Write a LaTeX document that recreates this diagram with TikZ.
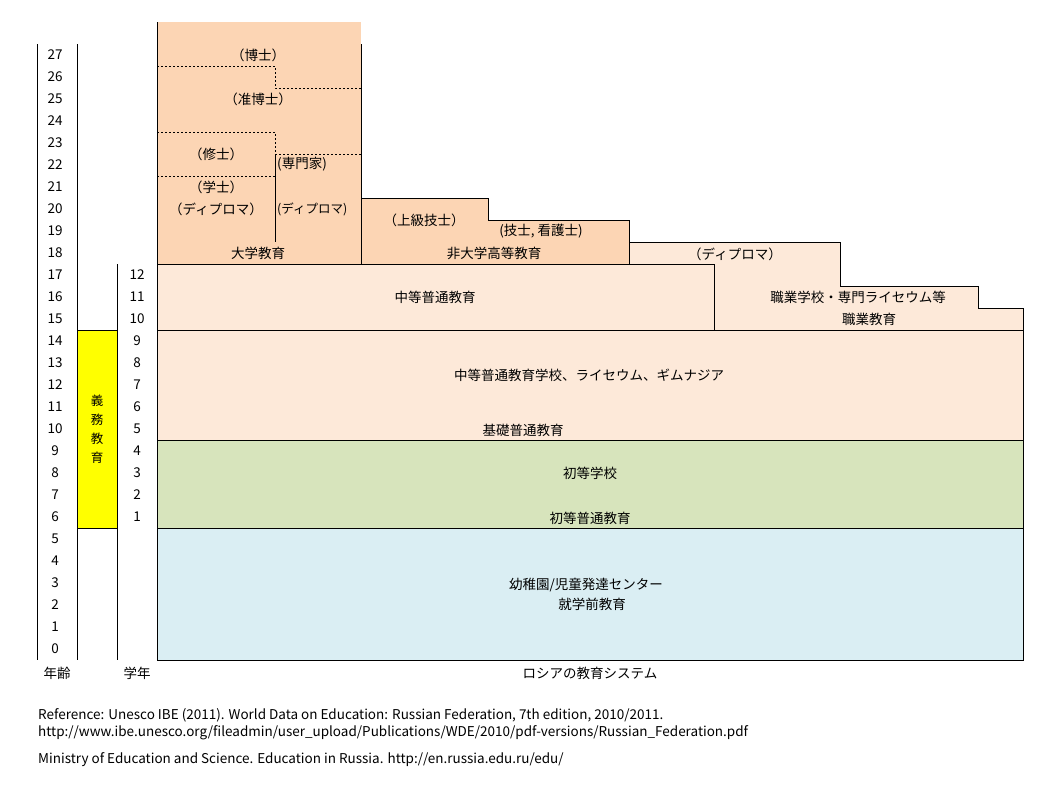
\documentclass[tikz,border=0pt]{standalone}
\usepackage{fontspec}
\setmainfont{Noto Sans CJK JP}
\usepackage{tikz}
\usetikzlibrary{positioning}

\definecolor{hochschule}{HTML}{FCD5B4}
\definecolor{sekundar}{HTML}{FDE9D9}
\definecolor{primar}{HTML}{D7E4BC}
\definecolor{vorschule}{HTML}{DAEEF3}
\definecolor{pflicht}{HTML}{FFFF00}

\tikzset{
	rand/.style={draw=black, line width=1pt},
	trenn/.style={line width=1pt, dash pattern=on 2pt off 2pt},
	txt/.style={inner sep=0pt, font=\fontsize{13.5}{16}\selectfont},
	quelle/.style={inner sep=0pt, anchor=west, font=\fontsize{13.5}{16}\selectfont},
}

\begin{document}
\begin{tikzpicture}[x=1pt,y=-1pt]
			\useasboundingbox[fill=white] (0,0) rectangle (1064,790);
			
			% Vorschule und Schule
			\draw[rand, fill=vorschule] (157,528) rectangle (1023,660);
			\draw[rand, fill=primar] (157,440) rectangle (1023,528);
			\draw[rand, fill=sekundar] (157,330) rectangle (1023,440);
			\draw[rand, fill=sekundar] (157,264) rectangle (714,330);
			
			% Berufsbildung
			\draw[rand, fill=sekundar] (714,330) -- (714,264) -- (629,264) -- (629,242) -- (840,242) -- (840,286)
				-- (978,286) -- (978,308) -- (1023,308) -- (1023,330) -- cycle;
			
			% Hochschule
			\fill[hochschule] (157,22) rectangle (361,264);
			\draw[rand] (157,22) -- (157,264);
			\draw[rand] (361,44) -- (361,264);
			\draw[rand, fill=hochschule] (361,264) -- (361,198) -- (488,198) -- (488,220) -- (629,220) -- (629,264) -- cycle;
			\draw[trenn] (157,66) -- (275,66) -- (275,88) -- (361,88);
			\draw[trenn] (157,132) -- (275,132) -- (275,154) -- (361,154);
			\draw[trenn] (157,176) -- (275,176);
			\draw[rand] (275,154) -- (275,242);
			
			% Achsen links
			\draw[rand] (37,44) -- (37,660);
			\draw[rand] (77,44) -- (77,660);
			\draw[rand] (117,264) -- (117,660);
			\draw[rand, fill=pflicht] (77,330) rectangle (117,528);
			
			% Alter
			\foreach \a in {0,...,27} {
				\pgfmathsetmacro{\ypos}{649-22*\a}
				\node[txt] (alter\a) at (55,\ypos) {\a};
			}
			
			% Klassen
			\foreach \k in {1,...,12} {
				\pgfmathsetmacro{\ypos}{649-22*(\k+5)}
				\node[txt] (klasse\k) at (137,\ypos) {\k};
			}
			
			\node[txt, align=center, font=\fontsize{12.5}{19}\selectfont] (pflicht) at (97,429) {義\\務\\教\\育};
			
			% Beschriftung Hochschule
			\node[txt] (doktor) at (258,55) {（博士）};
			\node[txt] (kandidat) at (258,99) {（准博士）};
			\node[txt] (master) at (216,154) {（修士）};
			\node[txt] (bachelor) at (216,187) {（学士）};
			\node[txt] (diplomuni) at (216,209) {（ディプロマ）};
			\node[txt, anchor=west] (spezialist) at (277,164) {(専門家)};
			\node[txt, anchor=west, font=\fontsize{12.5}{15}\selectfont] (diplomspez) at (277,209) {(ディプロマ)};
			\node[txt] (uni) at (258,253) {大学教育};
			\node[txt] (obertech) at (424,220) {（上級技士）};
			\node[txt] (tech) at (541,231) {(技士, 看護士)};
			\node[txt] (nichtuni) at (494,253) {非大学高等教育};
			
			% Beschriftung Schule
			\node[txt] (diplomberuf) at (735,254) {（ディプロマ）};
			\node[txt] (oberstufe) at (435,297) {中等普通教育};
			\node[txt] (berufsschule) at (858,297) {職業学校・専門ライセウム等};
			\node[txt] (beruf) at (869,319) {職業教育};
			\node[txt] (gymnasium) at (589,375) {中等普通教育学校、ライセウム、ギムナジア};
			\node[txt] (basis) at (523,430) {基礎普通教育};
			\node[txt] (grundschule) at (590,473) {初等学校};
			\node[txt] (primar) at (590,518) {初等普通教育};
			\node[txt] (kiga) at (586,585) {幼稚園/児童発達センター};
			\node[txt] (vorschul) at (592,604) {就学前教育};
			
			% Achsenbeschriftung unten
			\node[txt] (altertitel) at (57,673) {年齢};
			\node[txt] (klassetitel) at (137,673) {学年};
			\node[txt] (titel) at (590,673) {ロシアの教育システム};
			
			% Quellen
			\node[quelle] (quelle1) at (38,715) {Reference: Unesco IBE (2011). World Data on Education: Russian Federation, 7th edition, 2010/2011.};
			\node[quelle] (quelle2) at (38,733) {http://www.ibe.unesco.org/fileadmin/user\_upload/Publications/WDE/2010/pdf-versions/Russian\_Federation.pdf};
			\node[quelle] (quelle3) at (38,760) {Ministry of Education and Science. Education in Russia. http://en.russia.edu.ru/edu/};
		\end{tikzpicture}
\end{document}
